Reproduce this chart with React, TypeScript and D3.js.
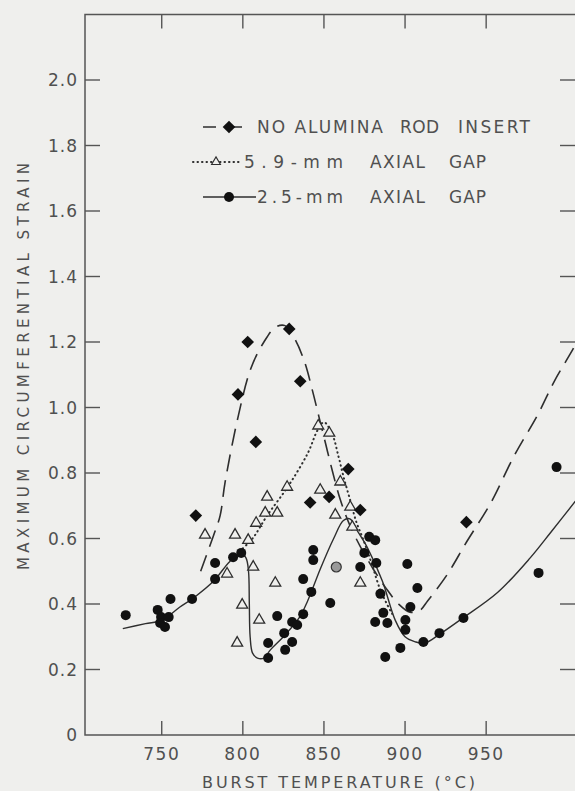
import * as d3 from 'd3';

// burst temperature (°C), max circumferential strain
const noInsertPts: [number, number][] = [
	[771, 0.67], [797, 1.04], [803, 1.2], [808, 0.895], [828.6, 1.24], [835.4, 1.08],
	[841.5, 0.71], [853.2, 0.727], [865, 0.812], [872.4, 0.687], [937.8, 0.65],
];

const gap59Pts: [number, number][] = [
	[776.7, 0.611], [795.2, 0.611], [803.3, 0.595], [808.2, 0.647], [813.8, 0.678], [821.2, 0.678],
	[815, 0.727], [827.3, 0.757], [790.3, 0.492], [806.4, 0.513], [820, 0.464], [799.6, 0.397],
	[810.1, 0.351], [796.5, 0.281], [846.5, 0.944], [853.3, 0.922], [860.1, 0.773], [847.7, 0.748],
	[857, 0.672], [866.2, 0.696], [867.5, 0.635], [872.4, 0.464],
];

const gap25Pts: [number, number][] = [
	[727.8, 0.366], [747.5, 0.382], [749.6, 0.36], [749, 0.342], [752, 0.33], [755.4, 0.415],
	[754.3, 0.36], [768.7, 0.415], [782.9, 0.525], [782.9, 0.476], [794, 0.543], [799, 0.556],
	[843.4, 0.565], [843.4, 0.534], [837.2, 0.476], [842.2, 0.437], [821.2, 0.363], [837.2, 0.369],
	[830.4, 0.345], [833.5, 0.336], [825.5, 0.311], [830.4, 0.284], [815.6, 0.281], [826.1, 0.26],
	[815.6, 0.235], [853.9, 0.403], [874.9, 0.556], [872.4, 0.513], [882.3, 0.525], [877.9, 0.605],
	[881.6, 0.595], [901.4, 0.522], [907.6, 0.449], [884.8, 0.431], [886.6, 0.373], [881.6, 0.345],
	[889.1, 0.342], [903.3, 0.391], [900.2, 0.351], [900.2, 0.321], [911.3, 0.284], [897.1, 0.266],
	[887.8, 0.238], [921.2, 0.311], [936, 0.357], [982.3, 0.495], [993.4, 0.818],
];

const gap25HalfPts: [number, number][] = [[857.6, 0.513]];

// fitted curves
const noInsertCurve: [number, number][] = [
	[774, 0.5], [782, 0.61], [786, 0.67], [789, 0.77], [797, 0.97], [805, 1.12], [813, 1.2],
	[820, 1.245], [826, 1.25], [832, 1.21], [838, 1.14], [843, 1.05], [847, 0.97], [851, 0.89],
	[855, 0.81], [860, 0.72], [866, 0.64], [873, 0.57], [880, 0.51], [888, 0.45], [896, 0.4],
	[903, 0.375], [909, 0.38], [914, 0.41], [926, 0.49], [938, 0.59], [953, 0.71], [967, 0.85],
	[982, 0.98], [992, 1.08], [1002, 1.165], [1006, 1.2],
];

const gap59Curve: [number, number][] = [
	[800, 0.57], [806, 0.6], [815, 0.67], [828, 0.76], [840, 0.86], [846, 0.93], [850, 0.955],
	[855, 0.92], [859, 0.85], [862, 0.79], [866, 0.72], [870, 0.65], [874, 0.6], [879, 0.53],
	[885, 0.44], [892, 0.37],
];

const gap25Curve: [number, number][] = [
	[726, 0.325], [740, 0.34], [750, 0.35], [761, 0.39], [770, 0.42], [782, 0.47], [792, 0.53],
	[799, 0.555], [802, 0.54], [803.5, 0.5], [804, 0.4], [804.5, 0.3], [806, 0.25], [809, 0.235],
	[813, 0.235], [817, 0.26], [825, 0.3], [835, 0.36], [840, 0.41], [848, 0.51], [856, 0.6],
	[862, 0.655], [866, 0.66], [871, 0.62], [877, 0.57], [886, 0.47], [894, 0.35], [900, 0.3],
	[906, 0.285], [912, 0.28], [922, 0.31], [935, 0.355], [957, 0.435], [977, 0.54], [990, 0.62],
	[1006, 0.72],
];

const xTicks = [750, 800, 850, 900, 950];
const yTicks = [0.2, 0.4, 0.6, 0.8, 1.0, 1.2, 1.4, 1.6, 1.8, 2.0];

const W = 575;
const H = 791;
const ink = '#2e2e2e';
const textInk = '#505050';
const paper = '#efefed';
const font = '"DejaVu Sans", sans-serif';

export default function App() {
	const margin = { left: 85, right: 577, top: 14.5, bottom: 735 };

	const x = d3.scaleLinear().domain([702.7, 1006]).range([margin.left, margin.right]);
	const y = d3.scaleLinear().domain([0, 2.2]).range([margin.bottom, margin.top]);

	const line = d3
		.line<[number, number]>()
		.x((d) => x(d[0]))
		.y((d) => y(d[1]))
		.curve(d3.curveCatmullRom.alpha(0.5));

	const diamond = d3.symbol(d3.symbolSquare, 80)()!;
	const triangle = d3.symbol(d3.symbolTriangle, 52)()!;

	return (
		<svg width={W} height={H} style={{ position: 'absolute', left: 0, top: 0 }} fontFamily={font}>
			<rect width={W} height={H} fill={paper} />

			{/* frame */}
			<rect
				x={margin.left}
				y={margin.top}
				width={margin.right - margin.left}
				height={margin.bottom - margin.top}
				fill="none"
				stroke="#555"
				strokeWidth={1.5}
			/>

			{/* ticks */}
			{xTicks.map((t) => (
				<g key={'x' + t}>
					<line x1={x(t)} x2={x(t)} y1={margin.bottom} y2={margin.bottom - 14} stroke="#555" strokeWidth={1.4} />
					<line x1={x(t)} x2={x(t)} y1={margin.top} y2={margin.top + 14} stroke="#555" strokeWidth={1.4} />
					<text x={x(t)} y={760} textAnchor="middle" fontSize={17} letterSpacing={1.5} fill={textInk}>
						{t}
					</text>
				</g>
			))}
			{yTicks.map((t) => (
				<g key={'y' + t}>
					<line x1={margin.left} x2={margin.left + 15} y1={y(t)} y2={y(t)} stroke="#555" strokeWidth={1.4} />
					<line x1={margin.right} x2={margin.right - 17} y1={y(t)} y2={y(t)} stroke="#555" strokeWidth={1.4} />
					<text x={78} y={y(t) + 6} textAnchor="end" fontSize={17} letterSpacing={1} fill={textInk}>
						{t.toFixed(1)}
					</text>
				</g>
			))}
			<text x={77} y={y(0) + 6} textAnchor="end" fontSize={17} fill={textInk}>
				0
			</text>

			{/* axis titles */}
			<text x={202} y={788} fontSize={16} textLength={273} lengthAdjust="spacing" fill={textInk}>
				BURST TEMPERATURE (°C)
			</text>
			<text
				transform="translate(29,570) rotate(-90)"
				fontSize={15}
				textLength={407}
				lengthAdjust="spacing"
				fill={textInk}
			>
				MAXIMUM CIRCUMFERENTIAL STRAIN
			</text>

			{/* curves */}
			<path d={line(noInsertCurve)!} fill="none" stroke={ink} strokeWidth={1.6} strokeDasharray="17,9" />
			<path d={line(gap59Curve)!} fill="none" stroke={ink} strokeWidth={2} strokeDasharray="0.5,4" strokeLinecap="round" />
			<path d={line(gap25Curve)!} fill="none" stroke={ink} strokeWidth={1.4} />

			{/* points */}
			{gap59Pts.map((d, i) => (
				<path
					key={'t' + i}
					d={triangle}
					transform={`translate(${x(d[0])},${y(d[1])})`}
					fill={paper}
					stroke={ink}
					strokeWidth={1.3}
				/>
			))}
			{noInsertPts.map((d, i) => (
				<path key={'d' + i} d={diamond} transform={`translate(${x(d[0])},${y(d[1])}) rotate(45)`} fill="#111" />
			))}
			{gap25Pts.map((d, i) => (
				<circle key={'c' + i} cx={x(d[0])} cy={y(d[1])} r={5} fill="#111" />
			))}
			{gap25HalfPts.map((d, i) => (
				<circle key={'h' + i} cx={x(d[0])} cy={y(d[1])} r={5} fill="#999" stroke="#333" strokeWidth={1.2} />
			))}

			{/* legend */}
			<g fontSize={17} fill={textInk}>
				<line x1={203} x2={253} y1={127} y2={127} stroke={ink} strokeWidth={1.6} strokeDasharray="13,13" />
				<path d={diamond} transform="translate(229,127) rotate(45)" fill="#111" />
				<text x={257} y={133} textLength={126} lengthAdjust="spacing">NO ALUMINA</text>
				<text x={400} y={133} textLength={39} lengthAdjust="spacing">ROD</text>
				<text x={458} y={133} textLength={72} lengthAdjust="spacing">INSERT</text>

				<line x1={193} x2={241} y1={162} y2={162} stroke={ink} strokeWidth={2} strokeDasharray="0.5,4" strokeLinecap="round" />
				<path d={d3.symbol(d3.symbolTriangle, 34)()!} transform="translate(216,162)" fill={paper} stroke={ink} strokeWidth={1.1} />
				<text x={244} y={168} textLength={99} lengthAdjust="spacing">5.9-mm</text>
				<text x={370} y={168} textLength={55} lengthAdjust="spacing">AXIAL</text>
				<text x={449} y={168} textLength={37} lengthAdjust="spacing">GAP</text>

				<line x1={203} x2={256} y1={197} y2={197} stroke={ink} strokeWidth={1.4} />
				<circle cx={229} cy={197} r={5} fill="#111" />
				<text x={257} y={203} textLength={86} lengthAdjust="spacing">2.5-mm</text>
				<text x={370} y={203} textLength={55} lengthAdjust="spacing">AXIAL</text>
				<text x={449} y={203} textLength={37} lengthAdjust="spacing">GAP</text>
			</g>
		</svg>
	);
}
